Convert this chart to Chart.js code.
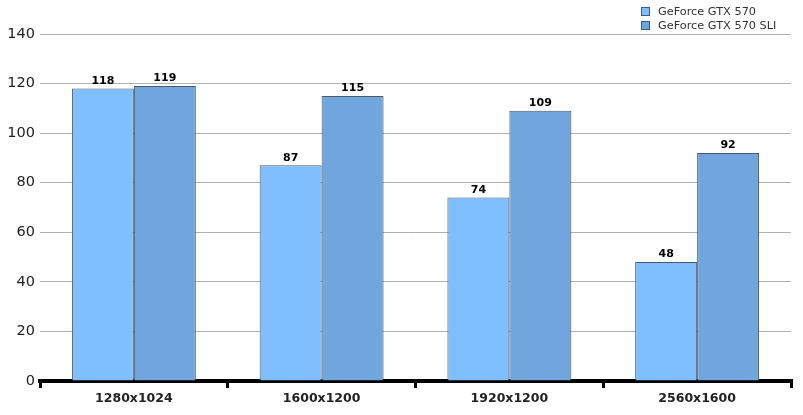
<html>
<head>
  <title></title>
</head>
<body style="margin:0">
  <div style="width:803px;height:415px">
  <canvas id="myChart"></canvas>
</div>

<script src="https://cdn.jsdelivr.net/npm/chart.js"></script>

<script>
  const resolutions = ['1280x1024', '1600x1200', '1920x1200', '2560x1600'];
  const gtx570 = [118, 87, 74, 48];
  const gtx570sli = [119, 115, 109, 92];
  const yTicks = [0, 20, 40, 60, 80, 100, 120, 140];

  const FONT = 'Verdana, "DejaVu Sans", sans-serif';

  // value labels above each bar
  const barLabels = {
    id: 'barLabels',
    afterDatasetsDraw(chart) {
      const c = chart.ctx;
      c.save();
      c.font = 'bold 11px ' + FONT;
      c.fillStyle = '#000';
      c.textAlign = 'center';
      c.textBaseline = 'bottom';
      chart.data.datasets.forEach((ds, i) => {
        chart.getDatasetMeta(i).data.forEach((bar, j) => {
          c.fillText(ds.data[j], bar.x, bar.y - 2);
        });
      });
      c.restore();
    }
  };

  // little legend box in the top right corner
  const cornerLegend = {
    id: 'cornerLegend',
    afterDraw(chart) {
      const c = chart.ctx;
      c.save();
      c.font = '11.3px ' + FONT;
      c.textBaseline = 'middle';
      chart.data.datasets.forEach((ds, i) => {
        const y = 12 + i * 14;
        c.fillStyle = ds.backgroundColor;
        c.fillRect(641.5, y - 4.5, 8, 8);
        c.strokeStyle = '#3d5a80';
        c.lineWidth = 1;
        c.strokeRect(641.5, y - 4.5, 8, 8);
        c.fillStyle = '#333';
        c.fillText(ds.label, 658, y);
      });
      c.restore();
    }
  };

  const ctx = document.getElementById('myChart');
  new Chart(ctx, {
    type: 'bar',
    data: {
      labels: resolutions,
      datasets: [{
        label: 'GeForce GTX 570',
        data: gtx570,
        backgroundColor: '#80bfff',
        borderColor: '#4f5766',
        borderWidth: 1,
        borderSkipped: 'bottom'
      }, {
        label: 'GeForce GTX 570 SLI',
        data: gtx570sli,
        backgroundColor: '#70a6de',
        borderColor: '#4f5766',
        borderWidth: 1,
        borderSkipped: 'bottom'
      }]
    },
    options: {
      responsive: true,
      maintainAspectRatio: false,
      animation: false,
      layout: { padding: { top: 34, right: 12, left: 0, bottom: 0 } },
      datasets: { bar: { categoryPercentage: 0.66, barPercentage: 1 } },
      plugins: {
        legend: { display: false },
        tooltip: { enabled: false }
      },
      scales: {
        x: {
          afterFit: s => { s.height = 34; },
          grid: {
            drawOnChartArea: false,
            color: '#000',
            lineWidth: 3,
            tickLength: 7,
            offset: true
          },
          border: { color: '#000', width: 4 },
          ticks: {
            color: '#222',
            font: { family: FONT, size: 12.5, weight: 'bold' },
            padding: 3
          }
        },
        y: {
          min: 0,
          max: 140,
          afterFit: s => { s.width = 40; },
          afterBuildTicks: s => { s.ticks = yTicks.map(v => ({ value: v })); },
          grid: { color: '#b0b0b0', drawTicks: false },
          border: { display: false },
          ticks: {
            color: '#222',
            font: { family: FONT, size: 14.5 },
            padding: 5
          }
        }
      }
    },
    plugins: [barLabels, cornerLegend]
  });
</script>

</body>
</html>
